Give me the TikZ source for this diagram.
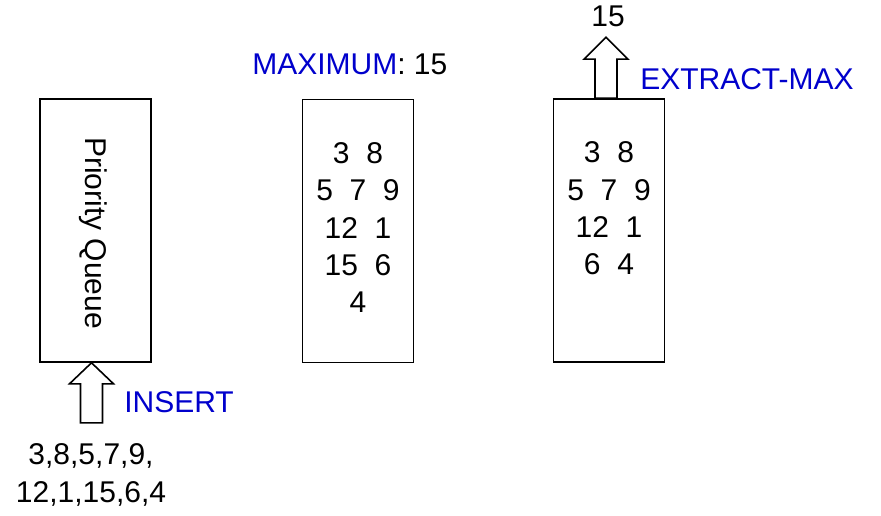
\documentclass[tikz,border=0pt]{standalone}
\usepackage{fontspec}
\setmainfont{Liberation Sans}
\usepackage{xcolor}
\definecolor{OpBlue}{HTML}{0000CC}
\usetikzlibrary{positioning, calc}

\begin{document}
\begin{tikzpicture}[
  x=0.75pt, y=-0.75pt,
  % === GRUNDSTILE ===
  % Box für die Queue
  pqbox/.style={
    draw=black,
    line width=1.2pt,
    minimum width=83.25pt,
    minimum height=197.25pt,
    inner sep=0pt
  },
  % Zahlen und Beschriftungen
  lbl/.style={
    font=\fontsize{22.5}{28}\selectfont,
    inner sep=0pt
  },
  nums/.style={
    lbl,
    align=center
  },
  % Operationsnamen
  opname/.style={
    lbl,
    text=OpBlue
  },
  % Block-Pfeile
  blockarrow/.style={
    draw=black,
    fill=white,
    line width=1.2pt,
    line join=miter
  }
]

% =============================================================================
% HINTERGRUND
% =============================================================================
\useasboundingbox (0,0) rectangle (881,516);

% =============================================================================
% BOXEN
% =============================================================================
\node[pqbox] (pq) at (95.5,230.5) {};
\node[lbl, rotate=-90] (pqname) at (93,233) {Priority Queue};

\node[pqbox] (heap) at (358,231) {};
\node[nums, anchor=base] (heapnums) at (358,313)
  {3\ \ 8\\5\ \ 7\ \ 9\\12\ \ 1\\15\ \ 6\\4};

\node[pqbox] (em) at (609,230.5) {};
\node[nums, anchor=base] (emnums) at (609,275)
  {3\ \ 8\\5\ \ 7\ \ 9\\12\ \ 1\\6\ \ 4};

% =============================================================================
% INSERT
% =============================================================================
\draw[blockarrow] ($(pq.south)+(-4,0)$) -- ++(22,21) -- ++(-11,0) -- ++(0,39)
  -- ++(-22,0) -- ++(0,-39) -- ++(-11,0) -- cycle;
\node[opname, anchor=base west] (insert) at (124,412) {INSERT};
\node[nums, anchor=base] (input) at (91,502) {3,8,5,7,9,\\12,1,15,6,4};

% =============================================================================
% MAXIMUM
% =============================================================================
\node[lbl, anchor=base west] (maxlbl) at (252,75)
  {\textcolor{OpBlue}{MAXIMUM}: 15};

% =============================================================================
% EXTRACT-MAX
% =============================================================================
\draw[blockarrow] ($(em.north)+(-14,0)$) -- ++(22,0) -- ++(0,-39) -- ++(11,0)
  -- ++(-22,-22) -- ++(-22,22) -- ++(11,0) -- cycle;
\node[opname, anchor=base west] (extract) at (640,90) {EXTRACT-MAX};
\node[lbl, anchor=base] (maxout) at (608,27) {15};

\end{tikzpicture}
\end{document}
